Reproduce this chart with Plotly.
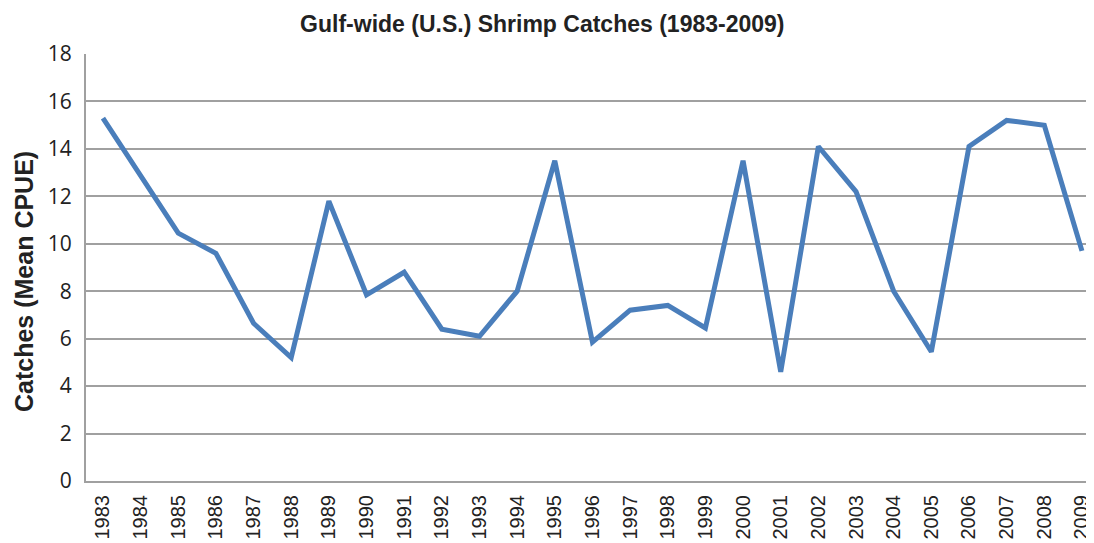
import plotly.graph_objects as go

# ── Data ─────────────────────────────────────────────────────────────────────
years = [str(y) for y in range(1983, 2010)]
cpue = [15.3, 12.9, 10.45, 9.6, 6.65, 5.2, 11.8, 7.85, 8.8, 6.4, 6.1, 8.0, 13.5,
        5.85, 7.2, 7.4, 6.45, 13.5, 4.6, 14.1, 12.2, 8.0, 5.45, 14.1, 15.2,
        15.0, 9.7]

# ── Style ────────────────────────────────────────────────────────────────────
LINE_CLR = "#4a7ebb"
GRID_CLR = "#a0a0a0"
FONT = "Liberation Sans, Arial, sans-serif"

# page body adds an 8px margin, so the figure is sized to fit the window
W, H = 1086, 535
M_L, M_T, M_B = 78, 46, 62

fig = go.Figure(go.Scatter(
    x=years, y=cpue, mode="lines",
    line=dict(color=LINE_CLR, width=5),
))

fig.update_layout(
    width=W, height=H,
    paper_bgcolor="white", plot_bgcolor="white",
    margin=dict(l=M_L, r=0, t=M_T, b=M_B),
    showlegend=False,
    font=dict(family=FONT, color="#000000"),
    title=dict(
        text="<b>Gulf-wide (U.S.) Shrimp Catches (1983-2009)</b>",
        x=0.492, xanchor="center", y=0.970, yanchor="middle",
        font=dict(size=23, family=FONT, color="#222"),
    ),
)

# y-axis title sits a little below the plot centre, as in the original
fig.add_annotation(
    text="<b>Catches (Mean CPUE)</b>",
    xref="paper", yref="paper",
    x=(16 - M_L) / (W - M_L), xanchor="center",
    y=(H - M_B - 274) / (H - M_T - M_B), yanchor="middle",
    textangle=-90, showarrow=False,
    font=dict(size=25, family=FONT, color="#222"),
)

fig.update_xaxes(
    type="category",
    range=[-0.45, 26.32],
    tickangle=-90,
    tickfont=dict(size=20, family=FONT, color="#222"),
    showgrid=False,
    showline=True, linecolor=GRID_CLR, linewidth=2,
    ticks="", ticklabelstandoff=4,
    automargin=False,
)

fig.update_yaxes(
    range=[0, 18], dtick=2,
    tickfont=dict(size=21, family="Open Sans, sans-serif", color="#222"),
    showgrid=True, gridcolor=GRID_CLR, gridwidth=2,
    zeroline=False,
    showline=True, linecolor=GRID_CLR, linewidth=2,
    ticks="", ticklabelstandoff=8,
    automargin=False,
)

fig.write_html("out.html")
